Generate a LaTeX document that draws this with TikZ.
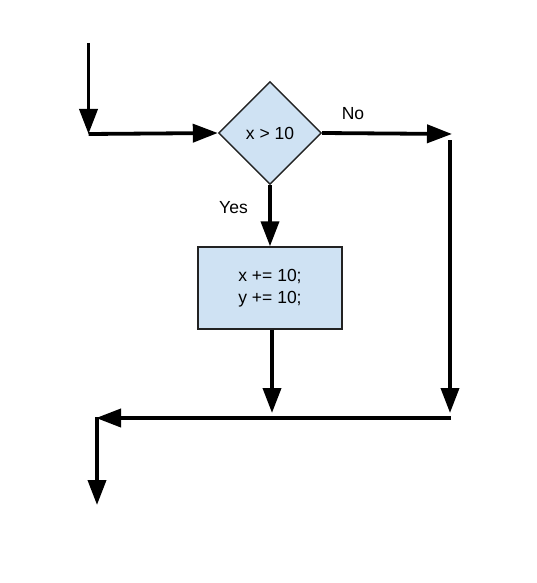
\documentclass[tikz,border=0pt]{standalone}
\usepackage{fontspec}
\newfontfamily\lab{Liberation Sans}
\usetikzlibrary{shapes.geometric,arrows.meta}
\definecolor{boxfill}{HTML}{CFE2F3}
\definecolor{boxline}{HTML}{222222}
\tikzset{
  flow/.style={line width=3.8pt,-{Triangle[length=25pt,width=18pt]}},
  lbl/.style={font=\lab\fontsize{17.5pt}{22pt}\selectfont,inner sep=0pt},
  decision/.style={diamond,aspect=1,minimum size=103pt,inner sep=0pt,fill=boxfill,draw=boxline,line width=1.4pt,lbl},
  process/.style={rectangle,minimum width=144pt,minimum height=82pt,inner sep=0pt,fill=boxfill,draw=boxline,line width=1.4pt,lbl,align=center}
}
\begin{document}
\begin{tikzpicture}[x=1pt,y=-1pt]
\useasboundingbox (0,0) rectangle (536,583);
\node[decision] (d) at (270,133) {x > 10};
\node[process] (b) at (270,288) {x += 10;\\y += 10;};
\coordinate (in0) at (88.5,43);
\coordinate (in1) at (88.5,134);
\coordinate (no1) at (452,134);
\coordinate (r0) at (450,140);
\coordinate (r1) at (450,413);
\coordinate (bb) at (272,413);
\coordinate (m0) at (451,418);
\coordinate (m1) at (96,418);
\coordinate (o0) at (97,417);
\coordinate (o1) at (97,505);
\draw[flow] (in0) -- (in1);
\draw[flow] (in1) -- (d.west);
\draw[flow] (d.east) -- (no1);
\draw[flow] (d.south) -- (b.north);
\draw[flow] (b.south -| bb) -- (bb);
\draw[flow] (r0) -- (r1);
\draw[flow] (m0) -- (m1);
\draw[flow] (o0) -- (o1);
\node[lbl] (no) at (353,114) {No};
\node[lbl] (yes) at (233.5,208) {Yes};
\end{tikzpicture}
\end{document}
